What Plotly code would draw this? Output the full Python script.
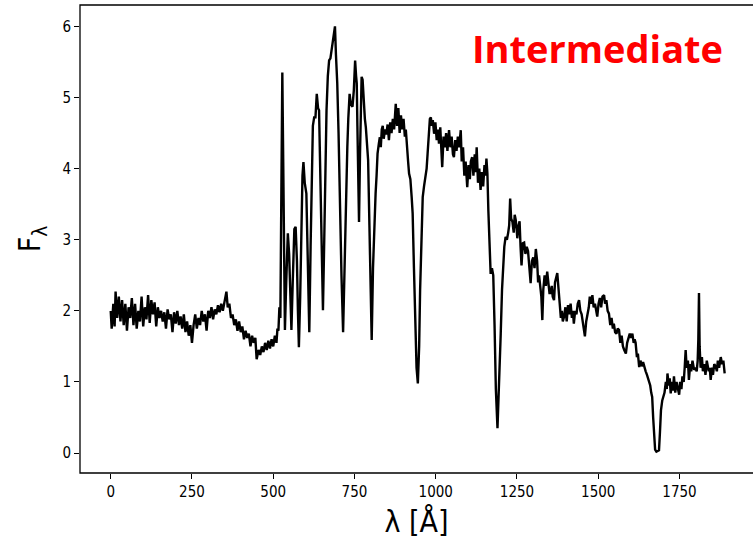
import plotly.graph_objects as go

wavelength = [
    0, 3, 8, 12, 15, 20, 25, 30, 35, 40, 45, 50, 55, 60, 65, 70, 75, 80, 85, 90, 95, 100,
    105, 110, 115, 120, 125, 130, 135, 140, 145, 150, 155, 160, 165, 170, 175, 180, 185, 190,
    195, 200, 205, 210, 215, 220, 225, 230, 235, 240, 245, 250, 255,
    260, 265, 270, 275, 280, 285, 290, 295, 300, 305, 310, 315, 320, 325, 330, 335, 340, 345,
    350, 356, 360, 365, 370, 375, 380, 385, 390, 395, 400, 405, 410, 415, 420, 425, 430, 435,
    440, 445, 449, 455, 460, 465, 470, 475, 480, 485, 490, 495, 500, 505, 510, 513, 516, 519,
    522, 525, 528, 531, 534, 536, 540, 545, 549, 552, 556, 560, 565, 569, 573, 576, 579, 583,
    587, 590, 593, 597, 602, 606, 611, 615, 619, 622, 626, 630, 634, 638, 641, 645, 649, 653,
    657, 660, 664, 668, 672, 676, 679, 683, 687, 690, 693, 697, 701, 705, 710, 715, 719, 723,
    728, 731, 735, 739, 744, 748, 752, 755, 757, 759, 761, 764, 767, 770, 772, 775, 779, 782,
    785, 789, 792, 796, 800, 803, 807, 811, 815, 818, 821, 825, 828, 831, 834, 837, 840, 844,
    848, 852, 856, 860, 864, 868, 872, 877, 881, 885, 889, 893, 897, 901, 905, 908, 912, 915,
    918, 922, 926, 929, 933, 937, 941, 945, 949, 952, 954, 957, 960, 964, 968, 972, 975, 979,
    982, 985, 988, 991, 995, 999, 1003, 1007, 1010, 1014, 1017, 1020, 1024, 1028, 1032, 1036,
    1041, 1045, 1049, 1053, 1056, 1060, 1064, 1068, 1072, 1077, 1080, 1084, 1088, 1092, 1097,
    1101, 1105, 1108, 1112, 1116, 1120, 1123, 1126, 1130, 1134, 1138, 1142, 1146, 1150, 1153,
    1156, 1159, 1162, 1166, 1169, 1173, 1177, 1181, 1185, 1190, 1194, 1197, 1200, 1204, 1208,
    1211, 1215, 1219, 1223, 1226, 1229, 1232, 1236, 1240, 1243, 1246, 1249, 1251, 1255, 1258,
    1261, 1264, 1268, 1272, 1276, 1280, 1284, 1288, 1292, 1296, 1300, 1304, 1308, 1312, 1315,
    1318, 1322, 1325, 1328, 1331, 1335, 1339, 1343, 1347, 1350, 1353, 1357, 1360, 1364, 1367,
    1371, 1374, 1378, 1381, 1385, 1388, 1391, 1395, 1399, 1403, 1407, 1411, 1415, 1419, 1422,
    1425, 1429, 1433, 1437, 1441, 1445, 1449, 1452, 1455, 1459, 1463, 1467, 1471, 1474, 1478,
    1482, 1486, 1490, 1494, 1497, 1501, 1505, 1509, 1513, 1518, 1521, 1525, 1529, 1533, 1537,
    1541, 1545, 1548, 1552, 1556, 1560, 1564, 1568, 1572, 1576, 1580, 1585, 1589, 1593, 1597,
    1601, 1605, 1609, 1612, 1615, 1619, 1622, 1626, 1630, 1634, 1638, 1642, 1646, 1650, 1653,
    1656, 1660, 1663, 1666, 1669, 1672, 1675, 1679, 1683, 1687, 1690, 1693, 1697, 1700, 1704,
    1708, 1711, 1713, 1717, 1720, 1723, 1727, 1730, 1733, 1737, 1741, 1745, 1749, 1752, 1756,
    1759, 1763, 1766, 1769, 1772, 1776, 1779, 1783, 1786, 1790, 1795, 1799, 1803, 1806, 1808,
    1810, 1812, 1815, 1819, 1822, 1826, 1830, 1834, 1836, 1840, 1843, 1846, 1850, 1853, 1857,
    1861, 1865, 1868, 1872, 1877, 1881, 1885, 1889,
]

flux = [
    2.0, 1.75, 2.1, 1.78, 2.27, 1.9, 2.2, 1.85, 2.15, 1.8, 2.1, 1.72, 2.05, 1.9, 2.18, 1.8, 2.1, 1.75, 2.0, 1.85, 2.2, 1.78,
    2.05, 1.88, 2.22, 1.83, 2.15, 1.95, 2.12, 1.78, 2.05, 1.9, 2.0, 1.85, 1.98, 1.75, 2.02, 1.88, 1.95, 1.7,
    1.98, 1.82, 2.0, 1.8, 1.92, 1.75, 1.95, 1.7, 1.85, 1.65, 1.8, 1.55, 1.8,
    1.95, 1.75, 1.9, 1.8, 2.0, 1.85, 1.95, 1.72, 2.0, 1.9, 2.05, 1.88, 2.02, 1.95, 2.08, 1.98, 2.1, 2.0,
    2.12, 2.27, 2.05, 2.1, 1.9, 1.95, 1.8, 1.88, 1.72, 1.85, 1.7, 1.78, 1.6, 1.72, 1.62, 1.68, 1.5, 1.65,
    1.55, 1.62, 1.32, 1.45, 1.38, 1.5, 1.42, 1.55, 1.45, 1.58, 1.47, 1.6, 1.5, 1.65, 1.55, 1.75, 1.72, 2.05,
    1.9, 3.5, 5.35, 4.0, 2.5, 1.73, 2.4, 3.09, 2.8, 2.2, 1.73, 2.4, 3.15, 3.18, 2.7, 2.0, 1.49, 2.2,
    3.3, 3.9, 4.09, 3.8, 3.65, 2.8, 1.7, 2.9, 4.0, 4.6, 4.72, 4.72, 5.05, 4.85, 4.82, 3.8, 2.8, 2.01,
    3.0, 4.0, 4.82, 5.3, 5.52, 5.55, 5.64, 5.8, 5.85, 6.0, 5.6, 5.2, 4.5, 3.5, 2.5, 1.7, 2.6, 3.6,
    4.3, 4.7, 5.05, 4.9, 4.87, 5.1, 5.52, 5.3, 5.2, 4.6, 3.8, 3.25, 4.2, 5.0, 5.29, 5.25, 4.9, 4.7,
    4.58, 4.35, 4.12, 3.2, 2.2, 1.59, 2.6, 3.3, 3.65, 3.9, 4.21, 4.35, 4.44, 4.3, 4.55, 4.6, 4.42, 4.55,
    4.48, 4.62, 4.4, 4.65, 4.5, 4.7, 4.55, 4.91, 4.6, 4.85, 4.5, 4.75, 4.55, 4.7, 4.45, 4.55, 4.35, 4.1,
    3.93, 3.85, 3.6, 3.37, 2.6, 1.8, 1.2, 0.98, 1.5, 2.3, 2.71, 3.3, 3.6, 3.75, 3.88, 4.0, 4.21, 4.5,
    4.7, 4.72, 4.6, 4.68, 4.49, 4.65, 4.4, 4.55, 4.35, 4.58, 4.3, 4.02, 4.45, 4.3, 4.5, 4.25,
    4.54, 4.3, 4.45, 4.2, 4.16, 4.4, 4.25, 4.45, 4.3, 4.54, 4.1, 4.3, 3.9, 4.1, 3.74,
    4.05, 3.85, 4.1, 4.16, 3.9, 4.2, 3.95, 4.3, 3.8, 4.0, 3.7, 3.95, 3.75, 4.05, 3.9,
    4.14, 3.93, 3.4, 2.9, 2.52, 2.6, 2.5, 1.8, 0.9, 0.35, 0.8, 1.3, 1.68, 2.3, 2.76,
    2.9, 3.04, 3.0, 3.1, 3.2, 3.58, 3.3, 3.25, 3.1, 3.35, 3.28, 3.15, 3.02, 3.2, 3.26,
    2.9, 2.64, 2.95, 2.96, 2.8, 2.9, 2.84, 2.6, 2.39, 2.7, 2.75, 2.6, 2.87, 2.7, 2.4,
    2.5, 2.35, 2.2, 1.87, 2.3, 2.5, 2.35, 2.55, 2.4, 2.25, 2.25, 2.35, 2.2, 2.15, 2.4,
    2.5, 2.53, 2.3, 2.1, 1.9, 2.0, 1.85, 1.92, 2.05, 1.85, 2.08, 1.95, 2.1, 1.9, 2.0,
    1.82, 2.0, 1.95, 2.1, 2.15, 2.0, 1.95, 1.85, 1.75, 1.64, 1.85, 1.95, 2.05, 2.2, 2.1,
    2.22, 2.05, 2.1, 1.95, 1.92, 2.1, 2.18, 2.05, 2.2, 2.22, 2.1, 2.15, 2.0, 1.96, 1.8,
    1.9, 1.75, 1.82, 1.7, 1.68, 1.75, 1.73, 1.55, 1.65, 1.5, 1.45, 1.4, 1.55, 1.6, 1.68,
    1.62, 1.68, 1.55, 1.6, 1.55, 1.35, 1.4, 1.21, 1.3, 1.22, 1.28, 1.2, 1.15, 1.1, 1.05,
    1.03, 0.95, 0.85, 0.79, 0.5, 0.2, 0.05, 0.02, 0.03, 0.04, 0.3, 0.6, 0.74, 0.8, 0.85,
    1.0, 0.9, 1.12, 0.95, 1.05, 0.84, 1.0, 0.88, 1.08, 0.85, 1.0, 0.88, 0.82, 1.0, 0.9,
    1.08, 1.0, 1.2, 1.45, 1.2, 1.3, 1.03, 1.25, 1.15, 1.3, 1.17, 1.2, 1.15, 1.3, 1.6,
    2.25, 1.5, 1.2, 1.35, 1.15, 1.25, 1.1, 1.3, 1.26, 1.15, 1.2, 1.03, 1.2, 1.1, 1.25,
    1.22, 1.15, 1.3, 1.2, 1.35, 1.25, 1.3, 1.12,
]

x_ticks = [0, 250, 500, 750, 1000, 1250, 1500, 1750]
y_ticks = [0, 1, 2, 3, 4, 5, 6]
title_text = "Intermediate"

font_family = "Liberation Sans Narrow, DejaVu Sans Condensed, DejaVu Sans"
tick_font = dict(family=font_family, size=15, color="black")

fig = go.Figure()
fig.add_trace(go.Scatter(
    x=wavelength, y=flux, mode="lines",
    line=dict(color="black", width=2.4),
    showlegend=False, hoverinfo="skip",
))

fig.update_layout(
    width=753, height=543,
    margin=dict(l=80, r=0, t=5, b=70, autoexpand=False),
    paper_bgcolor="white", plot_bgcolor="white",
    xaxis=dict(
        range=[-94.5, 1976.2], tickvals=x_ticks, ticktext=[str(v) for v in x_ticks],
        ticks="outside", ticklen=5, tickwidth=1, tickcolor="black",
        showgrid=False, zeroline=False, showline=False, automargin=False,
        tickfont=tick_font,
        title=dict(text="λ [Å]", font=dict(family=font_family, size=30, color="black"), standoff=10),
    ),
    yaxis=dict(
        range=[-0.28, 6.3], tickvals=y_ticks, ticktext=[str(v) for v in y_ticks],
        ticks="outside", ticklen=5, tickwidth=1, tickcolor="black",
        showgrid=False, zeroline=False, showline=False, automargin=False,
        tickfont=tick_font,
        title=dict(text="F<sub>λ</sub>", font=dict(family=font_family, size=30, color="black"), standoff=12),
    ),
    shapes=[dict(type="rect", xref="paper", yref="paper", x0=0, x1=1.02, y0=0, y1=1,
                 line=dict(color="black", width=1.3), fillcolor="rgba(0,0,0,0)", layer="above")],
    annotations=[dict(text=f"<b>{title_text}</b>", xref="x", yref="y", x=1105, y=5.69,
                      xanchor="left", yanchor="middle", showarrow=False,
                      font=dict(family="Open Sans, Noto Sans, sans-serif", size=38, color="red"))],
)

fig.write_html("out.html", config={"displayModeBar": False})

# remove the browser's default page margin so the figure sits at the window origin
with open("out.html", "r", encoding="utf-8") as f:
    html = f.read()
html = html.replace("<body>", '<body style="margin:0;padding:0;overflow:hidden">', 1)
with open("out.html", "w", encoding="utf-8") as f:
    f.write(html)
